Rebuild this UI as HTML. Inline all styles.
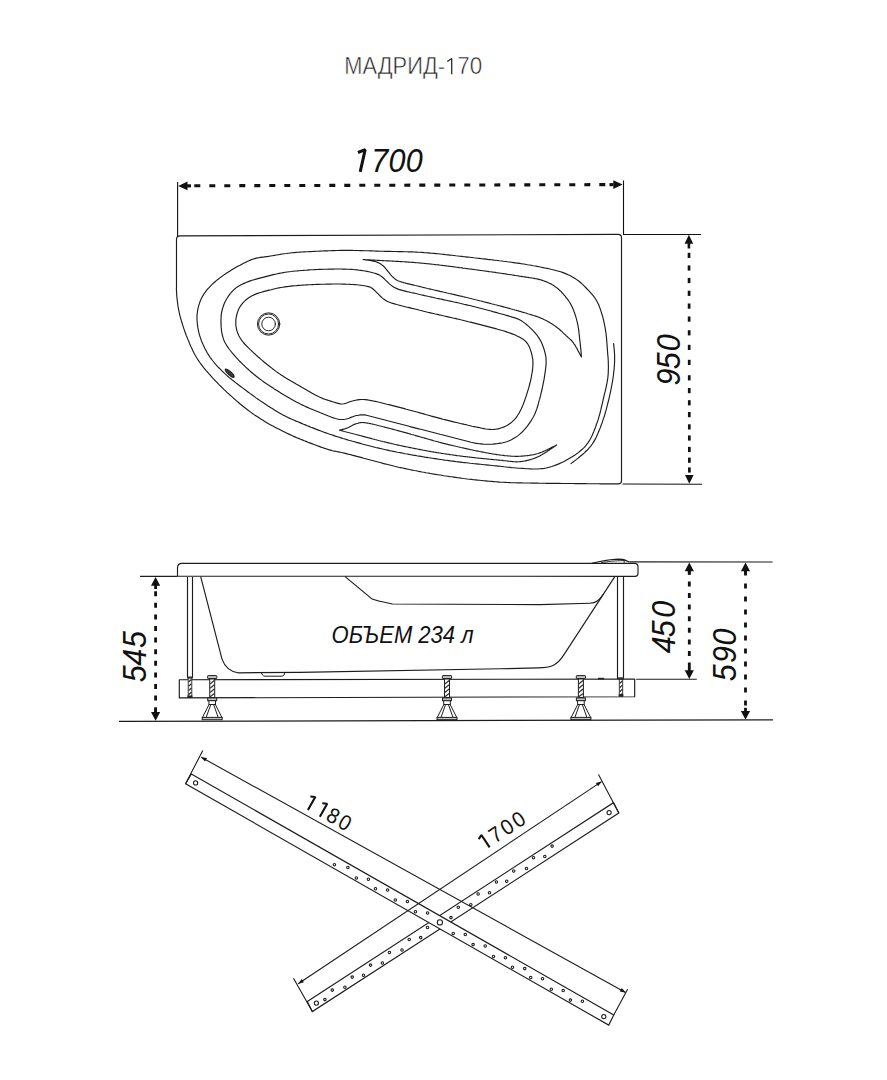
<!DOCTYPE html>
<html><head><meta charset="utf-8"><title>МАДРИД-170</title>
<style>html,body{margin:0;padding:0;background:#fff;}body{width:887px;height:1080px;overflow:hidden;font-family:"Liberation Sans",sans-serif;}svg{display:block;}</style>
</head><body>
<svg width="887" height="1080" viewBox="0 0 887 1080"><g fill="none" stroke="#1c1c1c" stroke-width="1.15" stroke-linejoin="round" stroke-linecap="round">
<path d="M176.5,286 L176.5,239.5 Q176.5,236 180,235.9 L618,234.4 Q621.5,234.4 621.5,237.5 L621.5,480.8 Q621.5,483.9 618.5,483.9 L619.5,483.9 L617.5,483.9 L615.5,483.9 L613.5,483.9 L611.5,483.8 L609.5,483.8 L607.5,483.8 L605.5,483.8 L603.5,483.8 L601.5,483.8 L599.5,483.8 L597.5,483.7 L595.5,483.7 L593.5,483.7 L591.5,483.7 L589.5,483.7 L587.5,483.7 L585.5,483.6 L583.5,483.6 L581.5,483.6 L579.5,483.6 L577.5,483.6 L575.5,483.6 L573.5,483.5 L571.5,483.5 L569.5,483.5 L567.5,483.5 L565.5,483.5 L563.5,483.5 L561.5,483.5 L559.4,483.4 L557.4,483.4 L555.4,483.4 L553.4,483.4 L551.4,483.4 L549.4,483.3 L547.4,483.3 L545.4,483.3 L543.4,483.2 L541.4,483.2 L539.4,483.2 L537.4,483.1 L535.4,483.1 L533.4,483.1 L531.4,483.1 L529.4,483.0 L527.4,483.0 L525.4,483.0 L523.4,483.0 L521.4,482.9 L519.4,482.9 L517.4,482.9 L515.4,482.8 L513.4,482.7 L511.4,482.7 L509.4,482.6 L507.4,482.5 L505.4,482.4 L503.4,482.3 L501.4,482.2 L499.4,482.1 L497.4,481.9 L495.4,481.8 L493.4,481.6 L491.4,481.4 L489.4,481.3 L487.4,481.1 L485.5,480.9 L483.5,480.7 L481.5,480.5 L479.5,480.3 L477.5,480.1 L475.5,479.9 L473.5,479.7 L471.5,479.4 L469.5,479.2 L467.5,479.0 L465.6,478.7 L463.6,478.5 L461.6,478.2 L459.6,477.9 L457.6,477.7 L455.6,477.4 L453.7,477.1 L451.7,476.8 L449.7,476.6 L447.7,476.3 L445.7,476.0 L443.8,475.7 L441.8,475.3 L439.8,475.0 L437.8,474.7 L435.8,474.4 L433.9,474.1 L431.9,473.7 L429.9,473.4 L428.0,473.0 L426.0,472.7 L424.0,472.3 L422.0,472.0 L420.1,471.6 L418.1,471.2 L416.1,470.8 L414.2,470.5 L412.2,470.1 L410.3,469.7 L408.3,469.3 L406.3,468.9 L404.4,468.4 L402.4,468.0 L400.5,467.6 L398.5,467.2 L396.6,466.7 L394.6,466.3 L392.7,465.8 L390.7,465.3 L388.8,464.8 L386.8,464.3 L384.9,463.9 L383.0,463.4 L381.0,462.8 L379.1,462.3 L377.1,461.8 L375.2,461.3 L373.3,460.8 L371.3,460.3 L369.4,459.7 L367.5,459.2 L365.6,458.7 L363.6,458.2 L361.7,457.6 L359.8,457.1 L357.8,456.6 L355.9,456.1 L354.0,455.6 L352.0,455.1 L350.1,454.5 L348.1,454.1 L346.2,453.6 L344.3,453.1 L342.3,452.7 L340.3,452.3 L338.4,451.9 L336.4,451.5 L334.4,451.1 L332.5,450.7 L330.6,450.1 L328.6,449.6 L326.7,449.0 L324.8,448.4 L322.9,447.7 L321.0,447.1 L319.2,446.4 L317.3,445.7 L315.4,445.0 L313.5,444.3 L311.7,443.6 L309.8,442.9 L307.9,442.2 L306.1,441.4 L304.2,440.7 L302.3,439.9 L300.5,439.2 L298.6,438.4 L296.8,437.7 L294.9,436.9 L293.1,436.1 L291.3,435.2 L289.5,434.4 L287.7,433.6 L285.9,432.7 L284.1,431.8 L282.3,430.9 L280.5,430.0 L278.7,429.1 L276.9,428.2 L275.1,427.3 L273.4,426.3 L271.6,425.4 L269.9,424.4 L268.1,423.4 L266.4,422.4 L264.7,421.4 L263.0,420.3 L261.3,419.3 L259.6,418.2 L257.9,417.1 L256.2,416.0 L254.5,414.9 L252.9,413.8 L251.3,412.6 L249.7,411.4 L248.1,410.2 L246.5,409.0 L244.9,407.8 L243.3,406.5 L241.8,405.3 L240.2,404.0 L238.7,402.7 L237.2,401.4 L235.7,400.1 L234.2,398.8 L232.7,397.4 L231.2,396.1 L229.7,394.8 L228.2,393.4 L226.7,392.1 L225.3,390.7 L223.8,389.3 L222.4,387.9 L221.0,386.5 L219.5,385.1 L218.1,383.7 L216.7,382.2 L215.4,380.8 L214.0,379.3 L212.6,377.9 L211.3,376.4 L210.0,374.9 L208.6,373.4 L207.3,371.9 L206.0,370.4 L204.7,368.8 L203.4,367.3 L202.2,365.7 L201.0,364.1 L199.8,362.5 L198.7,360.9 L197.6,359.2 L196.5,357.5 L195.5,355.8 L194.5,354.0 L193.6,352.2 L192.7,350.4 L191.9,348.6 L191.0,346.8 L190.2,345.0 L189.4,343.2 L188.7,341.3 L187.9,339.4 L187.2,337.6 L186.4,335.7 L185.7,333.8 L185.0,332.0 L184.4,330.1 L183.7,328.2 L183.1,326.3 L182.5,324.4 L181.9,322.5 L181.3,320.6 L180.7,318.6 L180.2,316.7 L179.7,314.8 L179.3,312.8 L178.9,310.9 L178.5,308.9 L178.1,306.9 L177.8,304.9 L177.6,303.0 L177.3,301.0 L177.1,299.0 L176.9,297.0 L176.7,295.0 L176.6,293.0 L176.5,291.0 L176.4,289.0 L176.5,287.0 L176.5,285.0 L176.5,285.0"/>
<path d="M197.4,312.0 L197.7,310.0 L198.1,308.1 L198.6,306.1 L199.2,304.2 L199.8,302.3 L200.5,300.5 L201.3,298.6 L202.2,296.9 L203.2,295.1 L204.3,293.4 L205.5,291.8 L206.7,290.2 L208.0,288.7 L209.3,287.3 L210.7,285.8 L212.1,284.4 L213.6,283.0 L215.1,281.7 L216.6,280.4 L218.2,279.2 L219.8,277.9 L221.4,276.8 L223.0,275.6 L224.6,274.4 L226.3,273.3 L228.0,272.2 L229.7,271.2 L231.4,270.1 L233.1,269.1 L234.8,268.1 L236.5,267.1 L238.3,266.1 L240.1,265.2 L241.8,264.2 L243.6,263.3 L245.4,262.4 L247.2,261.5 L249.0,260.7 L250.8,259.9 L252.7,259.2 L254.6,258.6 L256.5,258.1 L258.5,257.7 L260.5,257.4 L262.5,257.1 L264.4,256.9 L266.4,256.6 L268.4,256.4 L270.4,256.0 L272.4,255.7 L274.3,255.4 L276.3,255.0 L278.3,254.7 L280.2,254.4 L282.2,254.0 L284.2,253.7 L286.2,253.5 L288.2,253.2 L290.1,253.0 L292.1,252.8 L294.1,252.6 L296.1,252.4 L298.1,252.3 L300.1,252.1 L302.1,252.0 L304.1,251.9 L306.1,251.8 L308.1,251.7 L310.1,251.6 L312.1,251.5 L314.1,251.4 L316.1,251.3 L318.1,251.2 L320.1,251.1 L322.1,251.0 L324.1,250.9 L326.1,250.8 L328.1,250.8 L330.1,250.7 L332.1,250.6 L334.1,250.6 L336.1,250.5 L338.1,250.5 L340.1,250.4 L342.1,250.4 L344.1,250.4 L346.1,250.4 L348.1,250.4 L350.1,250.4 L352.1,250.4 L354.1,250.5 L356.1,250.5 L358.1,250.5 L360.1,250.6 L362.1,250.6 L364.1,250.7 L366.1,250.7 L368.1,250.8 L370.1,250.9 L372.1,250.9 L374.1,251.0 L376.1,251.1 L378.1,251.1 L380.1,251.2 L382.1,251.2 L384.1,251.3 L386.1,251.3 L388.1,251.4 L390.1,251.4 L392.1,251.5 L394.1,251.5 L396.1,251.5 L398.1,251.6 L400.1,251.6 L402.1,251.6 L404.1,251.7 L406.1,251.7 L408.1,251.8 L410.1,251.8 L412.1,251.9 L414.1,252.0 L416.1,252.1 L418.1,252.2 L420.1,252.3 L422.1,252.4 L424.1,252.6 L426.1,252.7 L428.0,252.9 L430.0,253.1 L432.0,253.3 L434.0,253.4 L436.0,253.6 L438.0,253.8 L440.0,254.0 L442.0,254.2 L444.0,254.4 L446.0,254.7 L448.0,254.9 L449.9,255.1 L451.9,255.3 L453.9,255.5 L455.9,255.8 L457.9,256.0 L459.9,256.2 L461.9,256.4 L463.9,256.7 L465.8,256.9 L467.8,257.1 L469.8,257.3 L471.8,257.5 L473.8,257.8 L475.8,258.0 L477.8,258.2 L479.8,258.4 L481.7,258.7 L483.7,258.9 L485.7,259.1 L487.7,259.4 L489.7,259.6 L491.7,259.8 L493.7,260.1 L495.7,260.3 L497.6,260.5 L499.6,260.8 L501.6,261.0 L503.6,261.3 L505.6,261.5 L507.6,261.8 L509.5,262.0 L511.5,262.3 L513.5,262.6 L515.5,262.9 L517.5,263.1 L519.5,263.4 L521.4,263.7 L523.4,264.0 L525.4,264.3 L527.4,264.7 L529.3,265.0 L531.3,265.3 L533.3,265.7 L535.2,266.0 L537.2,266.4 L539.2,266.8 L541.1,267.2 L543.1,267.6 L545.0,268.0 L547.0,268.4 L549.0,268.8 L550.9,269.3 L552.9,269.7 L554.8,270.2 L556.8,270.7 L558.7,271.2 L560.6,271.8 L562.5,272.4 L564.4,273.1 L566.2,273.9 L568.0,274.7 L569.9,275.5 L571.6,276.4 L573.4,277.4 L575.1,278.5 L576.7,279.6 L578.3,280.8 L579.9,282.0 L581.4,283.3 L582.9,284.7 L584.3,286.1 L585.7,287.5 L587.1,289.0 L588.5,290.4 L589.8,291.9 L591.2,293.4 L592.5,294.9 L593.7,296.4 L594.9,298.0 L596.0,299.7 L597.0,301.4 L597.9,303.2 L598.8,305.0 L599.5,306.9 L600.2,308.8 L600.8,310.7 L601.4,312.6 L602.0,314.5 L602.6,316.4 L603.1,318.3 L603.6,320.3 L604.0,322.2 L604.4,324.2 L604.8,326.1 L605.2,328.1 L605.5,330.1 L605.8,332.1 L606.1,334.0 L606.3,336.0 L606.5,338.0 L606.7,340.0 L606.8,342.0 L607.0,344.0 L607.1,346.0 L607.3,348.0 L607.4,350.0 L607.6,352.0 L607.7,354.0 L607.9,356.0 L608.1,358.0 L608.2,360.0 L608.3,362.0 L608.3,364.0 L608.4,366.0 L608.4,368.0 L608.3,370.0 L608.3,371.9 L608.2,373.9 L608.0,375.9 L607.8,377.9 L607.5,379.9 L607.2,381.9 L606.8,383.8 L606.4,385.8 L606.0,387.8 L605.5,389.7 L605.1,391.7 L604.6,393.6 L604.1,395.5 L603.7,397.5 L603.2,399.4 L602.8,401.4 L602.3,403.3 L601.9,405.3 L601.4,407.2 L601.0,409.2 L600.5,411.1 L600.0,413.1 L599.5,415.0 L598.9,416.9 L598.4,418.8 L597.8,420.7 L597.1,422.6 L596.4,424.5 L595.8,426.4 L595.1,428.3 L594.3,430.1 L593.6,432.0 L592.8,433.8 L592.0,435.7 L591.1,437.5 L590.2,439.2 L589.2,440.9 L588.1,442.6 L586.9,444.2 L585.6,445.8 L584.3,447.3 L582.9,448.7 L581.4,450.0 L579.9,451.3 L578.3,452.6 L576.7,453.8 L575.1,454.9 L573.4,456.0 L571.7,457.1 L570.0,458.1 L568.3,459.1 L566.5,460.1 L564.8,461.1 L563.0,462.0 L561.2,462.8 L559.4,463.6 L557.5,464.4 L555.7,465.1 L553.8,465.8 L551.9,466.5 L550.0,467.0 L548.0,467.5 L546.1,468.0 L544.1,468.4 L542.1,468.6 L540.2,468.8 L538.2,469.0 L536.2,469.0 L534.2,469.0 L532.2,469.0 L530.2,468.9 L528.2,468.8 L526.2,468.7 L524.2,468.5 L522.2,468.4 L520.2,468.3 L518.2,468.2 L516.2,468.0 L514.2,467.8 L512.2,467.7 L510.2,467.4 L508.2,467.2 L506.2,467.0 L504.3,466.8 L502.3,466.5 L500.3,466.3 L498.3,466.1 L496.3,465.9 L494.3,465.7 L492.3,465.5 L490.3,465.3 L488.3,465.1 L486.3,464.9 L484.4,464.7 L482.4,464.5 L480.4,464.3 L478.4,464.1 L476.4,463.9 L474.4,463.7 L472.4,463.5 L470.4,463.3 L468.4,463.0 L466.4,462.8 L464.5,462.6 L462.5,462.4 L460.5,462.1 L458.5,461.9 L456.5,461.7 L454.5,461.4 L452.5,461.1 L450.6,460.9 L448.6,460.6 L446.6,460.3 L444.6,460.1 L442.6,459.8 L440.7,459.5 L438.7,459.2 L436.7,458.9 L434.7,458.6 L432.7,458.3 L430.8,458.0 L428.8,457.7 L426.8,457.4 L424.8,457.1 L422.9,456.7 L420.9,456.4 L418.9,456.1 L416.9,455.8 L415.0,455.4 L413.0,455.1 L411.0,454.7 L409.1,454.4 L407.1,454.0 L405.1,453.7 L403.2,453.3 L401.2,452.9 L399.2,452.5 L397.3,452.2 L395.3,451.8 L393.3,451.4 L391.4,451.0 L389.4,450.6 L387.5,450.1 L385.5,449.7 L383.6,449.3 L381.6,448.8 L379.7,448.4 L377.7,447.9 L375.8,447.5 L373.8,447.0 L371.9,446.5 L370.0,446.0 L368.0,445.5 L366.1,445.0 L364.1,444.5 L362.2,444.0 L360.3,443.4 L358.4,442.9 L356.4,442.4 L354.5,441.8 L352.6,441.3 L350.7,440.7 L348.7,440.2 L346.8,439.6 L344.9,439.0 L343.0,438.5 L341.1,437.9 L339.2,437.3 L337.3,436.7 L335.3,436.1 L333.4,435.4 L331.5,434.8 L329.7,434.2 L327.8,433.5 L325.9,432.9 L324.0,432.2 L322.1,431.5 L320.2,430.8 L318.4,430.1 L316.5,429.4 L314.6,428.6 L312.8,427.9 L310.9,427.2 L309.1,426.4 L307.2,425.7 L305.4,424.9 L303.5,424.2 L301.7,423.4 L299.8,422.6 L298.0,421.8 L296.1,421.1 L294.3,420.3 L292.4,419.5 L290.6,418.7 L288.8,417.9 L287.0,417.0 L285.2,416.1 L283.4,415.2 L281.7,414.2 L279.9,413.3 L278.2,412.3 L276.5,411.2 L274.8,410.2 L273.1,409.1 L271.4,408.1 L269.7,407.0 L268.0,405.9 L266.3,404.8 L264.7,403.7 L263.0,402.6 L261.3,401.5 L259.7,400.4 L258.0,399.2 L256.4,398.1 L254.8,396.9 L253.2,395.7 L251.5,394.5 L249.9,393.4 L248.3,392.2 L246.7,391.0 L245.1,389.8 L243.5,388.6 L241.9,387.4 L240.3,386.2 L238.7,385.0 L237.1,383.8 L235.5,382.6 L233.9,381.3 L232.4,380.1 L230.8,378.8 L229.3,377.6 L227.8,376.3 L226.3,374.9 L224.8,373.6 L223.3,372.2 L221.9,370.8 L220.5,369.4 L219.1,368.0 L217.7,366.6 L216.3,365.1 L215.0,363.6 L213.7,362.0 L212.5,360.5 L211.3,358.9 L210.1,357.3 L209.0,355.6 L207.9,353.9 L206.9,352.2 L206.0,350.4 L205.0,348.7 L204.2,346.9 L203.3,345.0 L202.5,343.2 L201.7,341.4 L201.0,339.5 L200.4,337.6 L199.7,335.7 L199.2,333.8 L198.7,331.8 L198.3,329.9 L197.9,327.9 L197.6,325.9 L197.4,324.0 L197.2,322.0 L197.0,320.0 L197.0,318.0 L197.0,316.0 L197.1,314.0Z"/>
<path d="M221.0,323.4 L221.0,321.4 L221.0,319.4 L221.1,317.4 L221.2,315.4 L221.4,313.4 L221.8,311.5 L222.3,309.5 L222.8,307.6 L223.5,305.7 L224.2,303.8 L225.0,302.0 L225.9,300.2 L226.9,298.5 L228.0,296.8 L229.1,295.2 L230.3,293.6 L231.6,292.0 L233.0,290.6 L234.4,289.2 L236.0,287.9 L237.6,286.8 L239.3,285.7 L241.0,284.8 L242.8,283.9 L244.7,283.1 L246.5,282.3 L248.4,281.6 L250.2,280.9 L252.1,280.3 L254.1,279.7 L256.0,279.1 L257.9,278.6 L259.9,278.1 L261.8,277.6 L263.7,277.1 L265.7,276.6 L267.6,276.1 L269.5,275.6 L271.5,275.1 L273.4,274.6 L275.4,274.2 L277.3,273.8 L279.3,273.4 L281.3,273.0 L283.2,272.6 L285.2,272.3 L287.2,272.0 L289.2,271.7 L291.2,271.5 L293.1,271.2 L295.1,271.0 L297.1,270.9 L299.1,270.7 L301.1,270.5 L303.1,270.4 L305.1,270.2 L307.1,270.1 L309.1,269.9 L311.1,269.8 L313.1,269.7 L315.1,269.6 L317.1,269.5 L319.1,269.4 L321.1,269.4 L323.1,269.3 L325.1,269.2 L327.1,269.2 L329.1,269.1 L331.1,269.1 L333.1,269.1 L335.1,269.0 L337.1,269.0 L339.1,269.0 L341.1,269.0 L343.1,269.1 L345.1,269.1 L347.1,269.2 L349.1,269.3 L351.1,269.4 L353.1,269.5 L355.1,269.7 L357.1,269.9 L359.1,270.2 L361.1,270.4 L363.0,270.7 L365.0,271.0 L367.0,271.4 L368.9,271.8 L370.9,272.2 L372.8,272.7 L374.8,273.2 L376.7,273.9 L378.5,274.6 L380.2,275.6 L381.9,276.8 L383.4,278.0 L384.8,279.4 L386.3,280.8 L387.7,282.2 L389.1,283.6 L390.6,284.9 L392.2,286.1 L393.9,287.2 L395.7,288.1 L397.5,288.9 L399.4,289.6 L401.3,290.1 L403.2,290.6 L405.2,291.1 L407.1,291.6 L409.1,292.0 L411.0,292.5 L413.0,292.9 L414.9,293.3 L416.9,293.8 L418.8,294.2 L420.8,294.7 L422.7,295.1 L424.7,295.6 L426.6,296.0 L428.6,296.5 L430.6,296.9 L432.5,297.3 L434.5,297.7 L436.4,298.2 L438.4,298.6 L440.3,299.0 L442.3,299.4 L444.2,299.9 L446.2,300.3 L448.2,300.7 L450.1,301.1 L452.1,301.5 L454.0,302.0 L456.0,302.4 L457.9,302.8 L459.9,303.3 L461.8,303.7 L463.8,304.2 L465.7,304.6 L467.7,305.1 L469.6,305.5 L471.6,306.0 L473.5,306.5 L475.5,307.0 L477.4,307.5 L479.3,308.0 L481.3,308.5 L483.2,309.0 L485.2,309.5 L487.1,310.0 L489.0,310.5 L491.0,311.0 L492.9,311.6 L494.8,312.1 L496.8,312.6 L498.7,313.2 L500.6,313.7 L502.5,314.2 L504.5,314.8 L506.4,315.4 L508.3,315.9 L510.2,316.5 L512.1,317.1 L514.1,317.6 L516.0,318.2 L517.8,318.9 L519.6,319.8 L521.4,320.8 L523.0,321.9 L524.7,323.1 L526.2,324.3 L527.7,325.6 L529.2,326.9 L530.7,328.3 L532.1,329.7 L533.5,331.2 L534.8,332.7 L536.1,334.2 L537.4,335.7 L538.5,337.4 L539.6,339.1 L540.6,340.8 L541.5,342.6 L542.3,344.4 L543.0,346.3 L543.7,348.2 L544.3,350.1 L544.8,352.0 L545.3,353.9 L545.7,355.9 L546.0,357.9 L546.1,359.9 L546.1,361.9 L546.1,363.9 L545.9,365.9 L545.7,367.8 L545.5,369.8 L545.2,371.8 L544.9,373.8 L544.6,375.8 L544.3,377.8 L544.0,379.7 L543.6,381.7 L543.2,383.7 L542.8,385.6 L542.4,387.6 L542.0,389.5 L541.5,391.5 L541.0,393.4 L540.6,395.4 L540.1,397.3 L539.6,399.2 L539.0,401.2 L538.5,403.1 L538.0,405.0 L537.4,407.0 L536.8,408.9 L536.1,410.7 L535.4,412.6 L534.6,414.4 L533.7,416.2 L532.7,418.0 L531.7,419.7 L530.7,421.4 L529.5,423.1 L528.4,424.7 L527.2,426.3 L525.9,427.8 L524.6,429.4 L523.3,430.8 L521.9,432.3 L520.4,433.6 L518.9,434.9 L517.3,436.1 L515.6,437.3 L513.9,438.3 L512.2,439.3 L510.4,440.2 L508.6,441.0 L506.7,441.7 L504.8,442.3 L502.9,442.8 L500.9,443.1 L498.9,443.4 L496.9,443.7 L495.0,443.9 L493.0,444.1 L491.0,444.2 L489.0,444.2 L487.0,444.3 L485.0,444.2 L483.0,444.1 L481.0,443.9 L479.0,443.7 L477.0,443.4 L475.0,443.1 L473.1,442.7 L471.1,442.3 L469.2,441.8 L467.2,441.3 L465.3,440.8 L463.3,440.3 L461.4,439.8 L459.5,439.3 L457.5,438.8 L455.6,438.3 L453.7,437.7 L451.8,437.2 L449.8,436.7 L447.9,436.2 L445.9,435.7 L444.0,435.2 L442.1,434.7 L440.1,434.3 L438.2,433.8 L436.2,433.3 L434.3,432.8 L432.3,432.3 L430.4,431.8 L428.5,431.3 L426.5,430.8 L424.6,430.3 L422.6,429.8 L420.7,429.3 L418.8,428.9 L416.8,428.4 L414.9,427.9 L413.0,427.4 L411.0,426.9 L409.1,426.3 L407.1,425.8 L405.2,425.3 L403.3,424.8 L401.3,424.3 L399.4,423.8 L397.5,423.3 L395.5,422.8 L393.6,422.3 L391.6,421.8 L389.7,421.3 L387.8,420.8 L385.8,420.2 L383.9,419.7 L382.0,419.2 L380.0,418.7 L378.1,418.2 L376.2,417.7 L374.2,417.2 L372.3,416.7 L370.4,416.2 L368.4,415.7 L366.5,415.3 L364.5,414.9 L362.5,414.8 L360.5,414.9 L358.6,415.2 L356.6,415.5 L354.7,416.0 L352.8,416.7 L350.9,417.4 L349.1,418.2 L347.2,418.8 L345.3,419.3 L343.3,419.5 L341.3,419.5 L339.3,419.4 L337.3,419.0 L335.4,418.5 L333.5,417.9 L331.6,417.2 L329.8,416.5 L327.9,415.8 L326.0,415.0 L324.2,414.3 L322.3,413.5 L320.5,412.8 L318.6,412.0 L316.8,411.3 L314.9,410.5 L313.1,409.8 L311.2,409.0 L309.4,408.2 L307.5,407.4 L305.7,406.6 L303.9,405.7 L302.1,404.9 L300.3,404.0 L298.5,403.1 L296.7,402.2 L295.0,401.2 L293.2,400.3 L291.4,399.3 L289.7,398.3 L288.0,397.3 L286.2,396.3 L284.5,395.3 L282.8,394.2 L281.1,393.2 L279.4,392.1 L277.7,391.1 L276.0,390.0 L274.3,388.9 L272.7,387.8 L271.0,386.7 L269.3,385.6 L267.6,384.5 L266.0,383.4 L264.3,382.3 L262.7,381.1 L261.1,379.9 L259.5,378.7 L257.9,377.5 L256.3,376.3 L254.8,375.0 L253.2,373.8 L251.7,372.5 L250.2,371.2 L248.7,369.8 L247.2,368.5 L245.7,367.1 L244.3,365.7 L242.8,364.4 L241.4,362.9 L240.0,361.5 L238.6,360.1 L237.3,358.6 L235.9,357.1 L234.6,355.6 L233.3,354.1 L232.0,352.6 L230.7,351.0 L229.5,349.5 L228.3,347.9 L227.1,346.2 L226.1,344.5 L225.1,342.8 L224.2,341.0 L223.5,339.1 L222.9,337.2 L222.4,335.3 L222.0,333.3 L221.6,331.4 L221.4,329.4 L221.2,327.4 L221.1,325.4Z"/>
<path d="M235.8,323.4 L235.8,321.4 L235.9,319.4 L236.2,317.4 L236.6,315.5 L237.1,313.5 L237.7,311.6 L238.4,309.8 L239.3,308.0 L240.3,306.3 L241.5,304.6 L242.7,303.1 L244.1,301.6 L245.5,300.3 L247.1,299.0 L248.7,297.8 L250.4,296.8 L252.1,295.8 L253.9,294.9 L255.7,294.1 L257.6,293.4 L259.5,292.7 L261.4,292.2 L263.3,291.6 L265.3,291.1 L267.2,290.6 L269.1,290.1 L271.1,289.7 L273.0,289.2 L275.0,288.7 L276.9,288.3 L278.9,287.9 L280.9,287.5 L282.8,287.2 L284.8,286.9 L286.8,286.6 L288.8,286.4 L290.8,286.1 L292.7,285.9 L294.7,285.7 L296.7,285.6 L298.7,285.4 L300.7,285.3 L302.7,285.1 L304.7,285.0 L306.7,284.9 L308.7,284.8 L310.7,284.7 L312.7,284.6 L314.7,284.5 L316.7,284.4 L318.7,284.4 L320.7,284.3 L322.7,284.2 L324.7,284.2 L326.7,284.1 L328.7,284.1 L330.7,284.1 L332.7,284.0 L334.7,284.0 L336.7,284.0 L338.7,284.0 L340.7,284.0 L342.7,284.1 L344.7,284.1 L346.7,284.2 L348.7,284.2 L350.7,284.4 L352.7,284.5 L354.7,284.6 L356.7,284.8 L358.7,285.0 L360.7,285.2 L362.6,285.5 L364.6,285.8 L366.6,286.2 L368.5,286.6 L370.4,287.3 L372.1,288.2 L373.6,289.5 L375.1,290.9 L376.5,292.3 L377.9,293.7 L379.3,295.1 L380.7,296.5 L382.2,297.9 L383.7,299.1 L385.4,300.2 L387.1,301.2 L388.9,302.0 L390.8,302.7 L392.7,303.4 L394.6,303.9 L396.5,304.5 L398.5,305.0 L400.4,305.5 L402.4,306.0 L404.3,306.5 L406.2,307.0 L408.2,307.4 L410.1,307.9 L412.1,308.4 L414.0,308.8 L416.0,309.3 L417.9,309.8 L419.8,310.3 L421.8,310.7 L423.7,311.2 L425.7,311.7 L427.6,312.2 L429.6,312.6 L431.5,313.1 L433.5,313.5 L435.4,314.0 L437.4,314.4 L439.3,314.9 L441.3,315.3 L443.2,315.8 L445.2,316.2 L447.1,316.6 L449.1,317.1 L451.0,317.5 L453.0,318.0 L454.9,318.4 L456.9,318.9 L458.8,319.3 L460.8,319.8 L462.7,320.2 L464.6,320.7 L466.6,321.2 L468.5,321.7 L470.5,322.1 L472.4,322.6 L474.4,323.1 L476.3,323.6 L478.2,324.1 L480.2,324.6 L482.1,325.1 L484.1,325.6 L486.0,326.1 L487.9,326.6 L489.9,327.1 L491.8,327.6 L493.7,328.1 L495.7,328.6 L497.6,329.2 L499.5,329.7 L501.4,330.3 L503.3,330.8 L505.3,331.4 L507.2,332.1 L509.1,332.7 L510.9,333.4 L512.8,334.1 L514.7,334.8 L516.5,335.7 L518.3,336.5 L520.1,337.5 L521.8,338.5 L523.5,339.6 L525.0,340.8 L526.4,342.2 L527.6,343.8 L528.6,345.5 L529.5,347.3 L530.2,349.1 L530.8,351.0 L531.4,352.9 L531.9,354.9 L532.3,356.8 L532.7,358.8 L532.9,360.8 L532.9,362.8 L532.9,364.8 L532.8,366.8 L532.6,368.8 L532.4,370.7 L532.1,372.7 L531.7,374.7 L531.4,376.7 L531.0,378.6 L530.6,380.6 L530.1,382.5 L529.6,384.5 L529.1,386.4 L528.6,388.3 L528.0,390.2 L527.4,392.2 L526.8,394.1 L526.2,396.0 L525.5,397.9 L524.9,399.7 L524.2,401.6 L523.5,403.5 L522.8,405.4 L522.0,407.2 L521.2,409.0 L520.3,410.8 L519.4,412.6 L518.3,414.3 L517.2,416.0 L516.1,417.6 L514.8,419.1 L513.4,420.6 L512.0,421.9 L510.4,423.2 L508.8,424.3 L507.1,425.4 L505.3,426.3 L503.5,427.1 L501.6,427.8 L499.7,428.4 L497.8,428.9 L495.8,429.2 L493.8,429.4 L491.8,429.5 L489.8,429.4 L487.8,429.3 L485.8,429.0 L483.9,428.6 L481.9,428.2 L480.0,427.8 L478.0,427.4 L476.0,427.0 L474.1,426.6 L472.1,426.2 L470.2,425.7 L468.2,425.3 L466.3,424.8 L464.3,424.4 L462.4,423.9 L460.4,423.5 L458.5,423.0 L456.6,422.5 L454.6,422.1 L452.7,421.6 L450.7,421.1 L448.8,420.6 L446.8,420.1 L444.9,419.6 L443.0,419.2 L441.0,418.6 L439.1,418.1 L437.2,417.6 L435.2,417.1 L433.3,416.6 L431.4,416.1 L429.4,415.5 L427.5,415.0 L425.6,414.5 L423.7,413.9 L421.7,413.4 L419.8,412.9 L417.9,412.3 L415.9,411.8 L414.0,411.3 L412.1,410.7 L410.2,410.2 L408.2,409.7 L406.3,409.2 L404.4,408.6 L402.4,408.1 L400.5,407.6 L398.6,407.1 L396.6,406.6 L394.7,406.1 L392.7,405.6 L390.8,405.1 L388.9,404.6 L386.9,404.2 L385.0,403.7 L383.0,403.2 L381.1,402.7 L379.2,402.3 L377.2,401.8 L375.2,401.4 L373.3,401.0 L371.3,400.6 L369.4,400.2 L367.4,399.9 L365.4,399.6 L363.4,399.5 L361.4,399.5 L359.4,399.6 L357.5,399.9 L355.5,400.2 L353.5,400.7 L351.6,401.2 L349.7,401.8 L347.9,402.5 L346.0,403.3 L344.1,403.8 L342.2,404.0 L340.2,403.9 L338.2,403.4 L336.3,402.9 L334.4,402.3 L332.5,401.7 L330.6,401.1 L328.7,400.5 L326.8,399.9 L324.9,399.3 L323.0,398.6 L321.2,397.8 L319.3,397.0 L317.5,396.1 L315.8,395.2 L314.0,394.3 L312.2,393.3 L310.5,392.3 L308.8,391.3 L307.0,390.3 L305.3,389.3 L303.6,388.3 L301.8,387.3 L300.1,386.3 L298.4,385.3 L296.6,384.3 L294.9,383.3 L293.2,382.3 L291.4,381.3 L289.7,380.3 L288.0,379.3 L286.3,378.3 L284.6,377.2 L282.9,376.1 L281.2,375.0 L279.6,373.9 L277.9,372.7 L276.3,371.6 L274.7,370.4 L273.1,369.2 L271.5,367.9 L270.0,366.7 L268.4,365.5 L266.8,364.2 L265.3,363.0 L263.7,361.7 L262.2,360.4 L260.7,359.1 L259.2,357.8 L257.7,356.5 L256.2,355.1 L254.7,353.8 L253.2,352.4 L251.8,351.1 L250.3,349.7 L248.9,348.3 L247.5,346.9 L246.1,345.5 L244.7,344.0 L243.4,342.5 L242.1,340.9 L241.0,339.3 L239.9,337.6 L239.0,335.9 L238.1,334.1 L237.4,332.2 L236.8,330.3 L236.4,328.3 L236.0,326.4 L235.8,324.4Z"/>
<path d="M363.0,259.5 L364.0,259.6 L365.0,259.6 L366.0,259.7 L367.0,259.7 L368.0,259.8 L369.0,259.9 L370.0,259.9 L371.0,260.0 L372.0,260.0 L373.0,260.1 L374.1,260.1 L375.1,260.2 L376.1,260.2 L377.1,260.3 L378.1,260.3 L379.1,260.4 L380.1,260.5 L381.1,260.5 L382.1,260.6 L383.2,260.6 L384.2,260.7 L385.2,260.7 L386.2,260.8 L387.2,260.8 L388.2,260.9 L389.2,260.9 L390.2,261.0 L391.2,261.0 L392.2,261.1 L393.3,261.1 L394.3,261.2 L395.3,261.3 L396.3,261.3 L397.3,261.4 L398.3,261.4 L399.3,261.5 L400.3,261.6 L401.3,261.6 L402.3,261.7 L403.3,261.7 L404.3,261.8 L405.3,261.9 L406.3,261.9 L407.3,262.0 L408.3,262.1 L409.2,262.1 L410.2,262.2 L411.2,262.3 L412.2,262.4 L413.2,262.4 L414.2,262.5 L415.1,262.6 L416.1,262.7 L417.1,262.7 L418.1,262.8 L419.0,262.9 L420.0,263.0 L421.0,263.1 L422.1,263.2 L423.1,263.3 L424.1,263.4 L425.1,263.5 L426.2,263.6 L427.2,263.7 L428.2,263.8 L429.2,263.9 L430.2,264.0 L431.2,264.1 L432.2,264.2 L433.2,264.3 L434.3,264.5 L435.3,264.6 L436.3,264.7 L437.3,264.8 L438.3,264.9 L439.3,265.0 L440.2,265.2 L441.2,265.3 L442.2,265.4 L443.2,265.5 L444.2,265.6 L445.2,265.8 L446.2,265.9 L447.2,266.0 L448.2,266.1 L449.2,266.3 L450.2,266.4 L451.2,266.5 L452.1,266.6 L453.1,266.8 L454.1,266.9 L455.1,267.0 L456.1,267.2 L457.1,267.3 L458.1,267.4 L459.1,267.6 L460.1,267.7 L461.1,267.8 L462.0,267.9 L463.0,268.1 L464.0,268.2 L465.0,268.3 L466.0,268.5 L467.0,268.6 L468.0,268.7 L469.0,268.9 L470.0,269.0 L471.0,269.1 L472.0,269.3 L473.0,269.4 L474.1,269.5 L475.1,269.7 L476.1,269.8 L477.2,270.0 L478.2,270.1 L479.3,270.2 L480.3,270.4 L481.4,270.5 L482.4,270.7 L483.5,270.8 L484.6,271.0 L485.6,271.1 L486.7,271.3 L487.8,271.4 L488.8,271.6 L489.9,271.7 L491.0,271.8 L492.0,272.0 L493.1,272.1 L494.1,272.3 L495.2,272.4 L496.2,272.6 L497.3,272.7 L498.3,272.9 L499.4,273.0 L500.4,273.2 L501.4,273.3 L502.5,273.5 L503.5,273.6 L504.5,273.8 L505.5,273.9 L506.5,274.1 L507.4,274.2 L508.4,274.4 L509.4,274.5 L510.3,274.7 L511.3,274.8 L512.2,275.0 L513.1,275.1 L514.0,275.2 L514.9,275.4 L515.8,275.5 L516.7,275.7 L517.5,275.8 L518.4,275.9 L519.2,276.1 L520.0,276.2 L521.2,276.4 L522.4,276.6 L523.6,276.8 L524.7,276.9 L525.9,277.1 L527.0,277.3 L528.0,277.4 L529.1,277.6 L530.2,277.7 L531.2,277.9 L532.2,278.0 L533.2,278.2 L534.2,278.4 L535.2,278.6 L536.1,278.7 L537.1,278.9 L538.0,279.1 L538.9,279.4 L539.8,279.6 L540.7,279.8 L541.6,280.1 L542.5,280.4 L543.5,280.8 L544.5,281.1 L545.5,281.5 L546.5,281.9 L547.5,282.3 L548.4,282.8 L549.3,283.2 L550.2,283.6 L551.1,284.1 L551.9,284.6 L552.8,285.1 L553.6,285.6 L554.4,286.1 L555.2,286.7 L556.0,287.2 L556.9,287.9 L557.7,288.5 L558.5,289.2 L559.3,290.0 L560.1,290.7 L560.9,291.4 L561.6,292.2 L562.3,293.0 L563.1,293.8 L563.7,294.6 L564.4,295.4 L565.1,296.2 L565.7,297.0 L566.4,297.8 L567.0,298.6 L567.6,299.4 L568.2,300.2 L568.8,301.0 L569.3,301.8 L569.9,302.7 L570.4,303.6 L570.9,304.5 L571.4,305.4 L571.9,306.4 L572.3,307.3 L572.7,308.2 L573.1,309.1 L573.5,310.0 L573.9,311.0 L574.2,312.0 L574.6,313.0 L574.9,314.0 L575.2,315.0 L575.6,316.1 L575.9,317.1 L576.2,318.2 L576.5,319.2 L576.7,320.2 L577.0,321.3 L577.3,322.3 L577.5,323.3 L577.7,324.3 L577.9,325.4 L578.1,326.5 L578.3,327.6 L578.5,328.6 L578.6,329.7 L578.8,330.8 L578.9,331.9 L579.0,333.0 L579.1,334.0 L579.3,335.1 L579.4,336.1 L579.5,337.1 L579.6,338.1 L579.7,339.1 L579.8,340.0 L579.9,341.1 L580.1,342.2 L580.2,343.2 L580.3,344.3 L580.4,345.3 L580.5,346.3 L580.6,347.2 L580.7,348.2 L580.8,349.1 L580.9,350.0 L581.0,351.2 L581.1,352.4 L581.2,353.5 L581.2,354.6 L581.3,355.8 L581.4,356.9 L581.4,356.9 L580.9,356.0 L580.3,355.0 L579.8,354.1 L579.3,353.1 L578.8,352.1 L578.2,351.1 L577.7,350.1 L577.2,349.1 L576.7,348.1 L576.1,347.2 L575.6,346.3 L575.1,345.4 L574.6,344.6 L574.0,343.8 L573.5,343.0 L573.0,342.3 L572.2,341.3 L571.5,340.5 L570.7,339.8 L569.9,339.1 L569.2,338.4 L568.3,337.6 L567.4,336.8 L566.8,336.2 L566.1,335.6 L565.4,334.9 L564.7,334.3 L564.0,333.6 L563.2,332.9 L562.5,332.1 L561.7,331.4 L560.9,330.7 L560.1,330.0 L559.3,329.3 L558.5,328.6 L557.6,328.0 L556.8,327.3 L556.0,326.7 L555.2,326.1 L554.3,325.5 L553.5,324.9 L552.7,324.4 L551.8,323.8 L550.9,323.3 L550.1,322.8 L549.2,322.2 L548.3,321.7 L547.4,321.2 L546.5,320.7 L545.5,320.2 L544.5,319.8 L543.5,319.3 L542.5,318.8 L541.7,318.4 L540.8,318.1 L540.0,317.7 L539.1,317.4 L538.2,317.0 L537.3,316.7 L536.4,316.4 L535.5,316.1 L534.6,315.8 L533.6,315.5 L532.7,315.2 L531.7,314.9 L530.8,314.6 L529.8,314.3 L528.7,314.0 L527.7,313.7 L526.7,313.3 L525.6,313.0 L524.5,312.7 L523.4,312.4 L522.3,312.1 L521.2,311.7 L520.0,311.4 L519.2,311.2 L518.4,310.9 L517.6,310.7 L516.7,310.4 L515.9,310.2 L515.0,310.0 L514.1,309.7 L513.2,309.5 L512.3,309.2 L511.4,309.0 L510.5,308.7 L509.5,308.4 L508.6,308.2 L507.6,307.9 L506.7,307.7 L505.7,307.4 L504.7,307.2 L503.7,306.9 L502.7,306.6 L501.7,306.4 L500.7,306.1 L499.7,305.8 L498.7,305.6 L497.6,305.3 L496.6,305.0 L495.6,304.8 L494.5,304.5 L493.5,304.2 L492.5,304.0 L491.4,303.7 L490.4,303.4 L489.3,303.2 L488.3,302.9 L487.2,302.6 L486.2,302.4 L485.1,302.1 L484.1,301.8 L483.0,301.6 L482.0,301.3 L480.9,301.0 L479.9,300.8 L478.8,300.5 L477.8,300.3 L476.8,300.0 L475.8,299.8 L474.7,299.5 L473.7,299.2 L472.7,299.0 L471.7,298.7 L470.7,298.5 L469.7,298.3 L468.8,298.0 L467.8,297.8 L466.8,297.5 L465.8,297.3 L464.8,297.1 L463.8,296.8 L462.7,296.6 L461.7,296.3 L460.7,296.1 L459.7,295.9 L458.6,295.6 L457.6,295.4 L456.6,295.1 L455.5,294.9 L454.5,294.6 L453.5,294.4 L452.4,294.2 L451.4,293.9 L450.3,293.7 L449.3,293.5 L448.3,293.2 L447.2,293.0 L446.2,292.7 L445.2,292.5 L444.1,292.3 L443.1,292.0 L442.1,291.8 L441.1,291.6 L440.1,291.4 L439.1,291.1 L438.1,290.9 L437.1,290.7 L436.1,290.4 L435.1,290.2 L434.1,290.0 L433.2,289.8 L432.2,289.5 L431.3,289.3 L430.3,289.1 L429.4,288.9 L428.5,288.7 L427.6,288.5 L426.7,288.2 L425.8,288.0 L424.9,287.8 L424.1,287.6 L423.2,287.4 L422.4,287.2 L421.6,287.0 L420.8,286.8 L420.0,286.6 L418.8,286.3 L417.6,286.0 L416.5,285.7 L415.3,285.5 L414.2,285.2 L413.0,284.9 L411.9,284.6 L410.8,284.4 L409.7,284.1 L408.6,283.9 L407.6,283.6 L406.5,283.4 L405.5,283.1 L404.6,282.8 L403.6,282.6 L402.7,282.3 L401.8,282.1 L401.0,281.8 L400.2,281.5 L399.4,281.3 L398.7,281.0 L398.0,280.7 L397.4,280.4 L396.1,279.7 L395.1,279.0 L394.3,278.4 L393.5,277.6 L392.6,276.8 L391.9,276.1 L391.2,275.3 L390.5,274.6 L389.9,273.7 L389.2,272.9 L388.6,272.1 L387.9,271.3 L387.2,270.5 L386.6,269.7 L385.9,268.9 L385.3,268.0 L384.6,267.2 L383.9,266.5 L383.1,265.8 L382.3,265.2 L381.5,264.6 L380.7,264.1 L379.9,263.6 L379.0,263.1 L378.0,262.6 L377.0,262.2 L376.0,261.8 L375.1,261.5 L374.2,261.3 L373.3,261.1 L372.3,260.9 L371.3,260.7 L370.3,260.5 L369.3,260.4 L368.2,260.2 L367.1,260.1 L366.1,260.0 L365.0,259.8 L364.0,259.7 L363.0,259.5"/>
<path d="M339.5,430.2 L340.5,429.9 L341.5,429.7 L342.5,429.4 L343.5,429.1 L344.5,428.9 L345.5,428.6 L346.5,428.2 L347.4,427.9 L348.4,427.5 L349.4,427.0 L350.3,426.4 L351.2,425.9 L352.2,425.4 L353.1,424.9 L354.1,424.5 L355.1,424.1 L356.0,423.8 L357.0,423.5 L358.0,423.2 L358.9,422.9 L359.9,422.7 L360.9,422.6 L362.0,422.5 L362.9,422.5 L363.9,422.6 L365.0,422.7 L366.2,422.9 L367.6,423.1 L368.2,423.2 L368.9,423.3 L369.6,423.5 L370.4,423.6 L371.1,423.8 L371.9,424.0 L372.8,424.1 L373.6,424.3 L374.5,424.5 L375.4,424.8 L376.4,425.0 L377.3,425.2 L378.3,425.5 L379.3,425.7 L380.3,426.0 L381.3,426.2 L382.4,426.5 L383.4,426.8 L384.5,427.1 L385.6,427.4 L386.7,427.7 L387.8,427.9 L388.9,428.2 L390.0,428.5 L391.1,428.8 L392.2,429.1 L393.4,429.4 L394.5,429.7 L395.6,430.0 L396.7,430.3 L397.8,430.6 L398.9,430.9 L400.0,431.2 L400.9,431.4 L401.8,431.7 L402.6,431.9 L403.5,432.1 L404.4,432.4 L405.3,432.6 L406.3,432.9 L407.2,433.1 L408.1,433.4 L409.1,433.7 L410.0,433.9 L410.9,434.2 L411.9,434.5 L412.9,434.7 L413.8,435.0 L414.8,435.3 L415.8,435.6 L416.7,435.9 L417.7,436.1 L418.7,436.4 L419.7,436.7 L420.7,437.0 L421.7,437.3 L422.7,437.6 L423.7,437.8 L424.7,438.1 L425.7,438.4 L426.7,438.7 L427.7,439.0 L428.7,439.3 L429.7,439.6 L430.7,439.8 L431.7,440.1 L432.7,440.4 L433.7,440.7 L434.8,441.0 L435.8,441.2 L436.8,441.5 L437.8,441.8 L438.8,442.1 L439.8,442.3 L440.8,442.6 L441.8,442.9 L442.8,443.1 L443.8,443.4 L444.8,443.6 L445.8,443.9 L446.8,444.1 L447.8,444.4 L448.7,444.6 L449.7,444.9 L450.7,445.1 L451.7,445.3 L452.7,445.6 L453.7,445.8 L454.7,446.0 L455.7,446.3 L456.8,446.5 L457.8,446.8 L458.8,447.0 L459.9,447.2 L460.9,447.5 L462.0,447.7 L463.0,447.9 L464.1,448.2 L465.1,448.4 L466.2,448.6 L467.2,448.9 L468.3,449.1 L469.3,449.3 L470.4,449.6 L471.5,449.8 L472.5,450.0 L473.6,450.2 L474.6,450.5 L475.7,450.7 L476.7,450.9 L477.7,451.1 L478.8,451.3 L479.8,451.5 L480.8,451.7 L481.8,451.9 L482.8,452.1 L483.8,452.3 L484.8,452.5 L485.8,452.7 L486.8,452.9 L487.7,453.0 L488.7,453.2 L489.6,453.4 L490.6,453.5 L491.5,453.7 L492.4,453.9 L493.3,454.0 L494.2,454.2 L495.1,454.3 L495.9,454.4 L496.8,454.6 L497.6,454.7 L498.4,454.8 L499.2,454.9 L500.0,455.0 L501.2,455.2 L502.4,455.3 L503.5,455.4 L504.6,455.6 L505.7,455.7 L506.8,455.8 L507.8,455.9 L508.8,456.0 L509.8,456.0 L510.8,456.1 L511.7,456.2 L512.7,456.2 L513.7,456.2 L514.6,456.3 L515.5,456.3 L516.5,456.3 L517.4,456.3 L518.4,456.3 L519.3,456.2 L520.3,456.2 L521.4,456.1 L522.4,456.1 L523.5,456.0 L524.5,455.9 L525.6,455.8 L526.6,455.7 L527.7,455.6 L528.7,455.5 L529.7,455.3 L530.7,455.1 L531.8,455.0 L532.8,454.8 L533.8,454.6 L534.8,454.3 L535.8,454.1 L536.9,453.8 L537.9,453.5 L538.8,453.2 L539.8,452.9 L540.7,452.5 L541.7,452.2 L542.6,451.8 L543.5,451.4 L544.5,451.0 L545.4,450.6 L546.3,450.1 L547.3,449.7 L548.2,449.2 L549.1,448.7 L550.1,448.3 L551.0,447.8 L551.9,447.3 L552.9,446.9 L553.8,446.4 L554.7,446.0 L555.7,445.5 L556.6,445.1 L556.6,445.1 L555.8,445.6 L554.9,446.2 L554.1,446.7 L553.2,447.3 L552.4,447.9 L551.5,448.5 L550.7,449.1 L549.8,449.6 L549.0,450.2 L548.1,450.8 L547.3,451.4 L546.4,451.9 L545.6,452.5 L544.8,453.0 L543.9,453.6 L543.0,454.1 L542.2,454.6 L541.3,455.1 L540.5,455.5 L539.6,456.0 L538.8,456.4 L537.9,456.8 L536.9,457.2 L536.0,457.6 L535.0,458.0 L534.1,458.4 L533.1,458.7 L532.1,459.0 L531.2,459.3 L530.2,459.6 L529.2,459.9 L528.3,460.2 L527.3,460.4 L526.3,460.6 L525.3,460.9 L524.3,461.0 L523.3,461.2 L522.3,461.4 L521.3,461.5 L520.3,461.6 L519.3,461.7 L518.4,461.7 L517.4,461.8 L516.5,461.8 L515.6,461.8 L514.6,461.7 L513.7,461.7 L512.7,461.6 L511.8,461.5 L510.8,461.4 L509.8,461.3 L508.8,461.2 L507.8,461.1 L506.8,461.0 L505.7,460.8 L504.7,460.7 L503.5,460.6 L502.4,460.4 L501.2,460.3 L500.0,460.2 L499.2,460.1 L498.4,460.1 L497.6,460.0 L496.7,459.9 L495.9,459.8 L495.0,459.7 L494.1,459.7 L493.2,459.6 L492.3,459.5 L491.3,459.4 L490.4,459.3 L489.4,459.2 L488.5,459.1 L487.5,459.0 L486.5,458.9 L485.5,458.8 L484.5,458.7 L483.5,458.6 L482.5,458.5 L481.4,458.4 L480.4,458.3 L479.4,458.2 L478.3,458.1 L477.2,458.0 L476.2,457.9 L475.1,457.7 L474.1,457.6 L473.0,457.5 L471.9,457.4 L470.8,457.3 L469.8,457.1 L468.7,457.0 L467.6,456.9 L466.5,456.8 L465.4,456.6 L464.4,456.5 L463.3,456.4 L462.2,456.2 L461.1,456.1 L460.1,456.0 L459.0,455.8 L458.0,455.7 L456.9,455.6 L455.8,455.4 L454.8,455.3 L453.8,455.1 L452.7,455.0 L451.7,454.8 L450.7,454.7 L449.7,454.6 L448.7,454.4 L447.7,454.3 L446.8,454.1 L445.8,454.0 L444.8,453.8 L443.8,453.7 L442.8,453.5 L441.8,453.4 L440.9,453.2 L439.9,453.0 L438.9,452.9 L437.9,452.7 L436.9,452.6 L435.9,452.4 L435.0,452.2 L434.0,452.1 L433.0,451.9 L432.0,451.7 L431.0,451.6 L430.1,451.4 L429.1,451.2 L428.1,451.0 L427.1,450.9 L426.1,450.7 L425.1,450.5 L424.2,450.3 L423.2,450.2 L422.2,450.0 L421.2,449.8 L420.2,449.6 L419.2,449.4 L418.2,449.2 L417.2,449.0 L416.2,448.8 L415.2,448.6 L414.2,448.4 L413.2,448.2 L412.2,448.0 L411.2,447.8 L410.2,447.6 L409.2,447.4 L408.2,447.2 L407.2,447.0 L406.2,446.8 L405.1,446.6 L404.1,446.4 L403.1,446.2 L402.1,445.9 L401.0,445.7 L400.0,445.5 L399.1,445.3 L398.1,445.1 L397.2,444.9 L396.2,444.7 L395.3,444.5 L394.3,444.2 L393.4,444.0 L392.4,443.8 L391.5,443.6 L390.5,443.3 L389.6,443.1 L388.6,442.9 L387.6,442.6 L386.7,442.4 L385.7,442.2 L384.7,441.9 L383.8,441.7 L382.8,441.5 L381.8,441.2 L380.8,441.0 L379.9,440.7 L378.9,440.5 L377.9,440.2 L376.9,440.0 L376.0,439.7 L375.0,439.5 L374.0,439.2 L373.0,439.0 L372.0,438.7 L371.0,438.4 L370.1,438.2 L369.1,437.9 L368.1,437.7 L367.1,437.4 L366.1,437.2 L365.1,436.9 L364.1,436.6 L363.1,436.4 L362.2,436.1 L361.2,435.8 L360.2,435.6 L359.2,435.3 L358.2,435.1 L357.2,434.8 L356.2,434.5 L355.2,434.3 L354.2,434.0 L353.3,433.8 L352.3,433.5 L351.3,433.2 L350.3,433.0 L349.3,432.7 L348.3,432.5 L347.3,432.2 L346.4,432.0 L345.4,431.7 L344.4,431.5 L343.4,431.2 L342.4,430.9 L341.5,430.7 L340.5,430.4 L339.5,430.2"/>
<path d="M613.6,343.5 L613.8,345.6 L614.0,347.5 L614.2,349.5 L614.4,351.5 L614.5,353.5 L614.6,355.5 L614.6,357.5 L614.6,359.5 L614.6,361.5 L614.5,363.5 L614.4,365.5 L614.2,367.5 L614.1,369.5 L613.8,371.5 L613.6,373.5 L613.4,375.5 L613.1,377.5 L612.8,379.4 L612.5,381.4 L612.1,383.4 L611.8,385.4 L611.4,387.3 L611.0,389.3 L610.6,391.3 L610.2,393.2 L609.8,395.2 L609.3,397.1 L608.9,399.1 L608.4,401.0 L607.9,403.0 L607.4,404.9 L606.9,406.9 L606.4,408.8 L605.9,410.7 L605.3,412.7 L604.8,414.6 L604.2,416.5 L603.6,418.4 L602.9,420.3 L602.3,422.2 L601.6,424.1 L600.9,426.0 L600.2,427.9 L599.4,429.7 L598.7,431.6 L597.9,433.4 L597.1,435.3 L596.3,437.1 L595.4,438.9 L594.4,440.6 L593.4,442.4 L592.3,444.0 L591.1,445.7 L589.9,447.2 L588.6,448.7 L587.2,450.2 L585.7,451.5 L584.3,452.9 L582.8,454.2 L581.2,455.5 L579.7,456.8 L578.2,458.1 L576.6,459.4 L575.0,460.6 L573.5,461.7 L571.9,462.9 L571.0,463.6"/>
<g stroke-width="0.95"><circle cx="268.6" cy="324" r="11.2"/><circle cx="268.6" cy="324" r="10.0"/><circle cx="268.6" cy="324" r="6.8"/></g>
<ellipse cx="229.7" cy="373.2" rx="5.8" ry="1.5" transform="rotate(42.7 229.7 373.2)" stroke-width="1.3" fill="#444"/>
</g>
<g stroke="#111" fill="none" stroke-width="1.1">
<path d="M177.6,182 L177.6,236 M623.5,180.5 L623.5,234.4 L701,234.5 M622.5,484 L702,484.2"/>
</g>
<line x1="187" y1="185.8" x2="614" y2="184.6" stroke="#111" stroke-width="3.1" stroke-dasharray="6 9" stroke-dashoffset="-7.3"/>
<path d="M178.2,185.9 L187.5,181.6 L187.5,190.2Z M622.6,184.6 L613.3,180.3 L613.3,188.9Z" fill="#111"/>
<rect x="187" y="184.3" width="4" height="3.1" fill="#111"/><rect x="609.5" y="183.1" width="4" height="3.1" fill="#111"/>
<rect x="687.67" y="252.80" width="2.7" height="5.2" fill="#111"/>
<rect x="687.69" y="265.40" width="2.7" height="5.2" fill="#111"/>
<rect x="687.71" y="277.90" width="2.7" height="5.2" fill="#111"/>
<rect x="687.74" y="290.70" width="2.7" height="5.2" fill="#111"/>
<rect x="687.76" y="303.50" width="2.7" height="5.2" fill="#111"/>
<rect x="687.78" y="316.50" width="2.7" height="5.2" fill="#111"/>
<rect x="687.80" y="330.20" width="2.7" height="5.2" fill="#111"/>
<rect x="687.83" y="344.80" width="2.7" height="5.2" fill="#111"/>
<rect x="687.85" y="359.80" width="2.7" height="5.2" fill="#111"/>
<rect x="687.88" y="375.20" width="2.7" height="5.2" fill="#111"/>
<rect x="687.90" y="388.00" width="2.7" height="5.2" fill="#111"/>
<rect x="687.92" y="400.20" width="2.7" height="5.2" fill="#111"/>
<rect x="687.94" y="412.00" width="2.7" height="5.2" fill="#111"/>
<rect x="687.96" y="424.30" width="2.7" height="5.2" fill="#111"/>
<rect x="687.98" y="435.40" width="2.7" height="5.2" fill="#111"/>
<rect x="688.00" y="446.90" width="2.7" height="5.2" fill="#111"/>
<rect x="688.02" y="457.60" width="2.7" height="5.2" fill="#111"/>
<rect x="688.04" y="467.40" width="2.7" height="5.2" fill="#111"/>
<path d="M688.9,234.8 L684.6,243.7 L693.2,243.7Z M689.3,483.8 L685,475 L693.6,475Z" fill="#111"/>
<rect x="687.6" y="243" width="2.6" height="5.5" fill="#111"/>
<g fill="none" stroke="#1c1c1c" stroke-width="1.15" stroke-linejoin="round">
<path d="M177.5,576.2 L177.5,568 Q177.5,563.4 182,563.4 L634.5,563.4 Q638,563.4 638,567 L638,573 Q638,576.3 635,576.3 L177.5,576.2"/>
<path d="M140,576.4 L177.5,576.3"/>
<path d="M591.8,563.3 C600,561.2 607,559.6 615,559.3 C620,559.1 623.5,559.3 626,560.6 L629.3,562" stroke-width="1.35"/>
<path d="M601,562.9 C608,561.4 614,560.8 624,560.6 M624.2,560.2 L624.2,563.2" stroke-width="0.9"/>
<path d="M200.7,576.7 L222,659.1 C224.5,666 230,671.5 238,672.8 L300,672.4 L500,668.8 L538,667.9 C551,667.6 556.5,666 563.5,655.4 L614.8,576.6"/>
<path d="M261.3,672.8 L262.5,675 Q263.5,676.2 265,676.2 L281,676.2 Q283,676.2 284,675 L285,672.6" stroke-width="1.0"/>
<path d="M345.1,576.6 L372.2,599.1 Q375,600.5 392.4,604 L540,604.6 L590,603.2 C596,602.9 599,600.5 603.5,594"/>
<path d="M187.5,577 L187.5,677.6 L192.5,677.6 L192.5,577 M617.5,576.8 L617.5,678.5 L623.5,678.5 L623.5,576.8"/>
<path d="M179.3,679.7 L634.7,679.1 L634.7,696.7 L179.3,697.9 Z"/>
</g>
<rect x="188.2" y="678.0" width="3.6" height="19.0" fill="#fff" stroke="#222" stroke-width="0.9"/><line x1="188.6" y1="682.1" x2="191.4" y2="679.5" stroke="#333" stroke-width="1.3"/><line x1="188.6" y1="686.3" x2="191.4" y2="683.7" stroke="#333" stroke-width="1.3"/><line x1="188.6" y1="690.5" x2="191.4" y2="687.9" stroke="#333" stroke-width="1.3"/><line x1="188.6" y1="694.7" x2="191.4" y2="692.1" stroke="#333" stroke-width="1.3"/>
<rect x="187.4" y="695.5" width="5" height="2.5" fill="#222"/>
<rect x="187.0" y="676.5" width="5.4" height="1.8" fill="#333"/>
<rect x="619.3" y="679.4" width="3.4" height="16.7" fill="#fff" stroke="#222" stroke-width="0.9"/><line x1="619.7" y1="683.5" x2="622.3" y2="680.9" stroke="#333" stroke-width="1.3"/><line x1="619.7" y1="687.7" x2="622.3" y2="685.1" stroke="#333" stroke-width="1.3"/><line x1="619.7" y1="691.9" x2="622.3" y2="689.3" stroke="#333" stroke-width="1.3"/><line x1="619.7" y1="696.1" x2="622.3" y2="693.5" stroke="#333" stroke-width="1.3"/>
<rect x="618.7" y="694.2" width="4.6" height="2.4" fill="#222"/>
<rect x="617.7" y="677.3" width="6" height="1.8" fill="#333"/>
<line x1="597.9" y1="678.6" x2="604.2" y2="678.6" stroke="#222" stroke-width="1.6"/>
<g fill="none" stroke="#1e1e1e" stroke-width="1"><rect x="207.6" y="675.6" width="9.2" height="3" rx="0.6" fill="#c4c4c4"/><rect x="209.7" y="679" width="5" height="18.5" fill="#fff"/><line x1="210.1" y1="683.9" x2="214.3" y2="680.5" stroke="#333" stroke-width="1.3"/><line x1="210.1" y1="688.2" x2="214.3" y2="684.8" stroke="#333" stroke-width="1.3"/><line x1="210.1" y1="692.5" x2="214.3" y2="689.1" stroke="#333" stroke-width="1.3"/><line x1="210.1" y1="696.8" x2="214.3" y2="693.4" stroke="#333" stroke-width="1.3"/><rect x="207.7" y="697.9" width="9" height="2.8" fill="#c4c4c4"/><rect x="208.9" y="700.7" width="6.6" height="3.8" fill="#fff"/><path d="M208.9,704.8 L202.5,717.4 M215.5,704.8 L221.9,717.4 M210.7,704.8 L206.2,717.4 M213.7,704.8 L218.2,717.4"/><rect x="202.2" y="717.4" width="20" height="2.3" fill="#c4c4c4"/></g>
<g fill="none" stroke="#1e1e1e" stroke-width="1"><rect x="442.4" y="675.6" width="9.2" height="3" rx="0.6" fill="#c4c4c4"/><rect x="444.5" y="679" width="5" height="18.5" fill="#fff"/><line x1="444.9" y1="683.9" x2="449.1" y2="680.5" stroke="#333" stroke-width="1.3"/><line x1="444.9" y1="688.2" x2="449.1" y2="684.8" stroke="#333" stroke-width="1.3"/><line x1="444.9" y1="692.5" x2="449.1" y2="689.1" stroke="#333" stroke-width="1.3"/><line x1="444.9" y1="696.8" x2="449.1" y2="693.4" stroke="#333" stroke-width="1.3"/><rect x="442.5" y="697.9" width="9" height="2.8" fill="#c4c4c4"/><rect x="443.7" y="700.7" width="6.6" height="3.8" fill="#fff"/><path d="M443.7,704.8 L437.3,717.4 M450.3,704.8 L456.7,717.4 M445.5,704.8 L441.0,717.4 M448.5,704.8 L453.0,717.4"/><rect x="437.0" y="717.4" width="20" height="2.3" fill="#c4c4c4"/></g>
<g fill="none" stroke="#1e1e1e" stroke-width="1"><rect x="576.3" y="675.6" width="9.2" height="3" rx="0.6" fill="#c4c4c4"/><rect x="578.4" y="679" width="5" height="18.5" fill="#fff"/><line x1="578.8" y1="683.9" x2="583.0" y2="680.5" stroke="#333" stroke-width="1.3"/><line x1="578.8" y1="688.2" x2="583.0" y2="684.8" stroke="#333" stroke-width="1.3"/><line x1="578.8" y1="692.5" x2="583.0" y2="689.1" stroke="#333" stroke-width="1.3"/><line x1="578.8" y1="696.8" x2="583.0" y2="693.4" stroke="#333" stroke-width="1.3"/><rect x="576.4" y="697.9" width="9" height="2.8" fill="#c4c4c4"/><rect x="577.6" y="700.7" width="6.6" height="3.8" fill="#fff"/><path d="M577.6,704.8 L571.2,717.4 M584.2,704.8 L590.6,717.4 M579.4,704.8 L574.9,717.4 M582.4,704.8 L586.9,717.4"/><rect x="570.9" y="717.4" width="20" height="2.3" fill="#c4c4c4"/></g>
<g stroke="#1c1c1c" stroke-width="1.15" fill="none">
<path d="M119,721.4 L773,719.8"/>
<path d="M629.3,561.9 L772.6,562"/>
<path d="M636.2,679.2 L696.8,679.2"/>
</g>
<line x1="155.6" y1="585.0" x2="155.6" y2="712.8" stroke="#111" stroke-width="2.8" stroke-dasharray="5 6.6" stroke-dashoffset="-6.2"/><path d="M155.6,577.0 L151.0,585.8 L160.2,585.8 Z M155.6,720.8 L151.0,712.0 L160.2,712.0 Z" fill="#111"/><rect x="154.2" y="585.0" width="2.8" height="4" fill="#111"/><rect x="154.2" y="708.8" width="2.8" height="4" fill="#111"/>
<line x1="689.3" y1="570.5" x2="689.3" y2="671.0" stroke="#111" stroke-width="2.8" stroke-dasharray="5 6.6" stroke-dashoffset="-10.9"/><path d="M689.3,562.5 L684.7,571.3 L693.9,571.3 Z M689.3,679.0 L684.7,670.2 L693.9,670.2 Z" fill="#111"/><rect x="687.9" y="570.5" width="2.8" height="4" fill="#111"/><rect x="687.9" y="667.0" width="2.8" height="4" fill="#111"/>
<line x1="745.5" y1="570.5" x2="745.5" y2="711.8" stroke="#111" stroke-width="2.8" stroke-dasharray="5 8" stroke-dashoffset="0"/><path d="M745.5,562.5 L740.9,571.3 L750.1,571.3 Z M745.5,719.8 L740.9,711.0 L750.1,711.0 Z" fill="#111"/><rect x="744.1" y="570.5" width="2.8" height="4" fill="#111"/><rect x="744.1" y="707.8" width="2.8" height="4" fill="#111"/>
<g fill="none" stroke="#1c1c1c" stroke-width="1.15" stroke-linejoin="miter">
<path d="M307.3,1001.4 L613.5,802.7 L618.8,813.1 L312.3,1011.6Z"/>
</g>
<path d="M191.3,774.0 L613.8,1014.9 L608.7,1025.1 L185.6,783.8Z" fill="#fff" stroke="#1c1c1c" stroke-width="1.15"/>
<g fill="none" stroke="#1a1a1a" stroke-width="1.05"><circle cx="334.4" cy="864.8" r="1.25"/><circle cx="356.4" cy="878.0" r="1.25"/><circle cx="375.5" cy="888.7" r="1.25"/><circle cx="395.3" cy="900.0" r="1.25"/><circle cx="415.4" cy="911.7" r="1.25"/><circle cx="453.2" cy="933.4" r="1.25"/><circle cx="473.1" cy="944.6" r="1.25"/><circle cx="493.5" cy="956.4" r="1.25"/><circle cx="512.5" cy="967.2" r="1.25"/><circle cx="530.7" cy="977.4" r="1.25"/><circle cx="551.3" cy="989.3" r="1.25"/><circle cx="570.4" cy="1000.1" r="1.25"/><circle cx="347.9" cy="867.4" r="1.25"/><circle cx="368.4" cy="879.2" r="1.25"/><circle cx="387.6" cy="889.9" r="1.25"/><circle cx="407.4" cy="901.4" r="1.25"/><circle cx="427.6" cy="912.9" r="1.25"/><circle cx="465.3" cy="934.4" r="1.25"/><circle cx="485.2" cy="946.0" r="1.25"/><circle cx="505.4" cy="957.7" r="1.25"/><circle cx="524.7" cy="968.6" r="1.25"/><circle cx="542.5" cy="978.7" r="1.25"/><circle cx="563.2" cy="990.5" r="1.25"/><circle cx="582.4" cy="1001.3" r="1.25"/><circle cx="324.9" cy="999.6" r="1.25"/><circle cx="332.3" cy="990.1" r="1.25"/><circle cx="344.9" cy="987.3" r="1.25"/><circle cx="352.2" cy="977.1" r="1.25"/><circle cx="363.5" cy="975.2" r="1.25"/><circle cx="370.5" cy="965.1" r="1.25"/><circle cx="382.4" cy="963.0" r="1.25"/><circle cx="389.4" cy="952.5" r="1.25"/><circle cx="402.0" cy="950.0" r="1.25"/><circle cx="409.2" cy="939.4" r="1.25"/><circle cx="420.7" cy="937.6" r="1.25"/><circle cx="427.5" cy="927.4" r="1.25"/><circle cx="451.0" cy="917.6" r="1.25"/><circle cx="458.3" cy="907.2" r="1.25"/><circle cx="470.8" cy="904.7" r="1.25"/><circle cx="478.1" cy="894.0" r="1.25"/><circle cx="489.5" cy="892.7" r="1.25"/><circle cx="496.4" cy="882.0" r="1.25"/><circle cx="506.7" cy="881.3" r="1.25"/><circle cx="513.7" cy="871.0" r="1.25"/><circle cx="526.5" cy="868.4" r="1.25"/><circle cx="533.5" cy="857.8" r="1.25"/><circle cx="544.8" cy="856.4" r="1.25"/><circle cx="552.1" cy="846.1" r="1.25"/><circle cx="195.6" cy="782.9" r="2.1"/><circle cx="603.8" cy="1016.6" r="2.1"/><circle cx="316.4" cy="1003.1" r="2.1"/><circle cx="609.1" cy="812.6" r="2.1"/><circle cx="439.9" cy="922.4" r="2.6"/></g>
<g stroke="#1c1c1c" stroke-width="1.1" fill="none">
<path d="M185.6,783.8 L202.8,750.4 M613.75,1014.9 L627.6,989.3"/>
<path d="M201.2,757.2 L625.6,992.5"/>
<path d="M312.3,1011.6 L293.5,978.3 M618.8,813.1 L598.5,774.5"/>
<path d="M298.2,983.7 L601.6,781.6"/>
</g>
<path d="M201.2,757.2 L205.0,761.6 L207.0,758.1 Z" fill="#111"/>
<path d="M625.6,992.5 L621.8,988.1 L619.8,991.6 Z" fill="#111"/>
<path d="M298.2,983.7 L303.9,982.3 L301.7,979.0 Z" fill="#111"/>
<path d="M601.6,781.6 L595.9,783.0 L598.1,786.3 Z" fill="#111"/>
<text x="344.3" y="74.3" font-family="Liberation Sans" font-size="24.2" fill="#222" stroke="#fff" stroke-width="0.55" textLength="100.7" lengthAdjust="spacingAndGlyphs">МАДРИД-</text>
<path d="M447.3,61.6 L451.7,58.6 L451.7,74.3" fill="none" stroke="#222" stroke-width="1.25" stroke-linejoin="bevel"/>
<text x="457.2" y="74.3" font-family="Liberation Sans" font-size="24.2" fill="#222" stroke="#fff" stroke-width="0.55" textLength="25" lengthAdjust="spacingAndGlyphs">70</text>
<g transform="translate(0.00,171.80) rotate(0.00)"><path d="M357.99,-19.30 L365.19,-22.10 L360.20,0.00" fill="none" stroke="#111" stroke-width="3.00" stroke-linejoin="bevel" stroke-linecap="butt"/><text transform="translate(379.60,0) scale(0.930,1)" x="0" y="0" font-family="Liberation Sans" font-style="italic" font-size="32.80" fill="#111" text-anchor="middle">7</text><text transform="translate(396.90,0) scale(0.930,1)" x="0" y="0" font-family="Liberation Sans" font-style="italic" font-size="32.80" fill="#111" text-anchor="middle">0</text><text transform="translate(414.20,0) scale(0.930,1)" x="0" y="0" font-family="Liberation Sans" font-style="italic" font-size="32.80" fill="#111" text-anchor="middle">0</text></g>
<g transform="translate(680.10,377.10) rotate(-90.00)"><text transform="translate(0.00,0) scale(0.930,1)" x="0" y="0" font-family="Liberation Sans" font-style="italic" font-size="32.80" fill="#111" text-anchor="middle">9</text><text transform="translate(16.30,0) scale(0.930,1)" x="0" y="0" font-family="Liberation Sans" font-style="italic" font-size="32.80" fill="#111" text-anchor="middle">5</text><text transform="translate(34.40,0) scale(0.930,1)" x="0" y="0" font-family="Liberation Sans" font-style="italic" font-size="32.80" fill="#111" text-anchor="middle">0</text></g>
<g transform="translate(145.50,673.90) rotate(-90.00)"><text transform="translate(0.00,0) scale(0.930,1)" x="0" y="0" font-family="Liberation Sans" font-style="italic" font-size="32.80" fill="#111" text-anchor="middle">5</text><text transform="translate(16.60,0) scale(0.930,1)" x="0" y="0" font-family="Liberation Sans" font-style="italic" font-size="32.80" fill="#111" text-anchor="middle">4</text><text transform="translate(34.40,0) scale(0.930,1)" x="0" y="0" font-family="Liberation Sans" font-style="italic" font-size="32.80" fill="#111" text-anchor="middle">5</text></g>
<g transform="translate(674.90,644.90) rotate(-90.00)"><text transform="translate(0.00,0) scale(0.930,1)" x="0" y="0" font-family="Liberation Sans" font-style="italic" font-size="32.80" fill="#111" text-anchor="middle">4</text><text transform="translate(16.00,0) scale(0.930,1)" x="0" y="0" font-family="Liberation Sans" font-style="italic" font-size="32.80" fill="#111" text-anchor="middle">5</text><text transform="translate(35.50,0) scale(0.930,1)" x="0" y="0" font-family="Liberation Sans" font-style="italic" font-size="32.80" fill="#111" text-anchor="middle">0</text></g>
<g transform="translate(736.30,672.80) rotate(-90.00)"><text transform="translate(0.00,0) scale(0.930,1)" x="0" y="0" font-family="Liberation Sans" font-style="italic" font-size="32.80" fill="#111" text-anchor="middle">5</text><text transform="translate(18.30,0) scale(0.930,1)" x="0" y="0" font-family="Liberation Sans" font-style="italic" font-size="32.80" fill="#111" text-anchor="middle">9</text><text transform="translate(35.80,0) scale(0.930,1)" x="0" y="0" font-family="Liberation Sans" font-style="italic" font-size="32.80" fill="#111" text-anchor="middle">0</text></g>
<text x="331.6" y="643" font-family="Liberation Sans" font-style="italic" font-size="23.5" fill="#111" textLength="142" lengthAdjust="spacingAndGlyphs">ОБЪЕМ 234 л</text>
<g transform="translate(299.70,805.30) rotate(29.50)"><path d="M4.95,-13.00 L9.45,-14.90 L9.45,0.00" fill="none" stroke="#111" stroke-width="2.10" stroke-linejoin="bevel" stroke-linecap="butt"/><path d="M18.65,-13.00 L23.15,-14.90 L23.15,0.00" fill="none" stroke="#111" stroke-width="2.10" stroke-linejoin="bevel" stroke-linecap="butt"/><text transform="translate(34.25,0) scale(0.930,1)" x="0" y="0" font-family="Liberation Sans" font-size="21.60" fill="#111" text-anchor="middle">8</text><text transform="translate(47.95,0) scale(0.930,1)" x="0" y="0" font-family="Liberation Sans" font-size="21.60" fill="#111" text-anchor="middle">0</text></g>
<g transform="translate(482.60,852.10) rotate(-33.50)"><path d="M3.95,-13.00 L8.45,-14.90 L8.45,0.00" fill="none" stroke="#111" stroke-width="2.10" stroke-linejoin="bevel" stroke-linecap="butt"/><text transform="translate(20.55,0) scale(0.930,1)" x="0" y="0" font-family="Liberation Sans" font-size="21.60" fill="#111" text-anchor="middle">7</text><text transform="translate(34.25,0) scale(0.930,1)" x="0" y="0" font-family="Liberation Sans" font-size="21.60" fill="#111" text-anchor="middle">0</text><text transform="translate(47.95,0) scale(0.930,1)" x="0" y="0" font-family="Liberation Sans" font-size="21.60" fill="#111" text-anchor="middle">0</text></g></svg>
</body></html>
